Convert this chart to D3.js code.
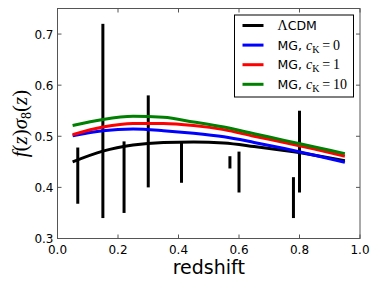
<!DOCTYPE html>
<html>
<head>
<meta charset="utf-8">
<script src="https://cdn.jsdelivr.net/npm/d3@7"></script>
<style>
  body { margin: 0; background: #fff; }
  svg { display: block; }
</style>
</head>
<body>
<div id="chart"></div>
<script>
// Model curves (redshift grid shared by all)
var zGrid = [0.05, 0.15, 0.25, 0.35, 0.45, 0.55, 0.65, 0.75, 0.85, 0.95];
var lcdm  = [0.450, 0.471, 0.483, 0.488, 0.489, 0.487, 0.480, 0.472, 0.463, 0.452];
var mg0   = [0.501, 0.511, 0.514, 0.511, 0.506, 0.499, 0.488, 0.476, 0.463, 0.449];
var mg1   = [0.503, 0.518, 0.525, 0.525, 0.521, 0.513, 0.500, 0.488, 0.475, 0.461];
var mg10  = [0.521, 0.533, 0.539, 0.537, 0.528, 0.518, 0.505, 0.492, 0.479, 0.466];

// Measurements: redshift, central value, half error
var dataZ   = [0.067, 0.15, 0.22, 0.30, 0.41, 0.57, 0.60, 0.78, 0.80];
var dataVal = [0.423, 0.530, 0.420, 0.490, 0.448, 0.449, 0.430, 0.380, 0.470];
var dataErr = [0.055, 0.190, 0.070, 0.090, 0.039, 0.012, 0.040, 0.040, 0.080];

var xTicks = [0.0, 0.2, 0.4, 0.6, 0.8, 1.0];
var yTicks = [0.3, 0.4, 0.5, 0.6, 0.7];

var W = 379, H = 285;
var margin = {left: 57.5, right: 19, top: 8.5, bottom: 46.5};

var svg = d3.select("#chart").append("svg")
    .attr("width", W).attr("height", H);

var x = d3.scaleLinear().domain([0, 1]).range([margin.left, W - margin.right]);
var y = d3.scaleLinear().domain([0.3, 0.75]).range([H - margin.bottom, margin.top]);

var series = [
  {vals: lcdm, color: "#000000", label: "ΛCDM"},
  {vals: mg0,  color: "#0000ff", label: "0"},
  {vals: mg1,  color: "#ff0000", label: "1"},
  {vals: mg10, color: "#008000", label: "10"}
];

var line = d3.line()
    .x(function(d){ return x(d[0]); })
    .y(function(d){ return y(d[1]); })
    .curve(d3.curveMonotoneX);

var plot = svg.append("g");

// error bars
plot.selectAll(".err")
    .data(dataZ)
    .enter()
    .append("line")
    .attr("x1", function(d){ return x(d); })
    .attr("x2", function(d){ return x(d); })
    .attr("y1", function(d, i){ return y(dataVal[i] - dataErr[i]); })
    .attr("y2", function(d, i){ return y(dataVal[i] + dataErr[i]); })
    .style("stroke", "#000")
    .style("stroke-width", "3px");

// curves
series.forEach(function(s){
  plot.append("path")
      .datum(zGrid.map(function(z, i){ return [z, s.vals[i]]; }))
      .attr("d", line)
      .style("fill", "none")
      .style("stroke", s.color)
      .style("stroke-width", "3px");
});

// frame
var x0 = x(0), x1 = x(1), y0 = y(0.3), y1 = y(0.75);
svg.append("rect")
    .attr("x", x0).attr("y", y1)
    .attr("width", x1 - x0).attr("height", y0 - y1)
    .style("fill", "none")
    .style("stroke", "#555")
    .style("stroke-width", "1px");

// ticks (inside, on all sides)
var tickLen = 4;
xTicks.forEach(function(t){
  svg.append("line").attr("x1", x(t)).attr("x2", x(t)).attr("y1", y0).attr("y2", y0 - tickLen)
     .style("stroke", "#555");
  svg.append("line").attr("x1", x(t)).attr("x2", x(t)).attr("y1", y1).attr("y2", y1 + tickLen)
     .style("stroke", "#555");
  svg.append("text")
     .attr("x", x(t)).attr("y", y0 + 15)
     .attr("text-anchor", "middle")
     .style("font-family", "DejaVu Sans")
     .style("font-size", "12px")
     .text(d3.format(".1f")(t));
});
yTicks.forEach(function(t){
  svg.append("line").attr("x1", x0).attr("x2", x0 + tickLen).attr("y1", y(t)).attr("y2", y(t))
     .style("stroke", "#555");
  svg.append("line").attr("x1", x1).attr("x2", x1 - tickLen).attr("y1", y(t)).attr("y2", y(t))
     .style("stroke", "#555");
  svg.append("text")
     .attr("x", x0 - 4).attr("y", y(t) + 4.5)
     .attr("text-anchor", "end")
     .style("font-family", "DejaVu Sans")
     .style("font-size", "12px")
     .text(d3.format(".1f")(t));
});

// axis labels
svg.append("text")
    .attr("x", (x0 + x1) / 2).attr("y", 274)
    .attr("text-anchor", "middle")
    .style("font-family", "DejaVu Sans")
    .style("font-size", "19px")
    .text("redshift");

var yl = svg.append("text")
    .attr("transform", "translate(27," + ((y0 + y1) / 2) + ") rotate(-90)")
    .attr("text-anchor", "middle")
    .style("font-family", "Liberation Serif")
    .style("font-size", "21px");
yl.append("tspan").style("font-style", "italic").text("f");
yl.append("tspan").text("(");
yl.append("tspan").style("font-style", "italic").text("z");
yl.append("tspan").text(")");
yl.append("tspan").style("font-style", "italic").text("σ");
yl.append("tspan").attr("dy", 4).style("font-size", "14px").text("8");
yl.append("tspan").attr("dy", -4).text("(");
yl.append("tspan").style("font-style", "italic").text("z");
yl.append("tspan").text(")");

// legend
var lg = svg.append("g").attr("transform", "translate(234.5,15)");
lg.append("rect")
    .attr("width", 119).attr("height", 82)
    .style("fill", "#fff")
    .style("stroke", "#000")
    .style("stroke-width", "1px");

series.forEach(function(s, i){
  var ly = 10.5 + i * 19.6;
  lg.append("line")
    .attr("x1", 8).attr("x2", 29).attr("y1", ly).attr("y2", ly)
    .style("stroke", s.color).style("stroke-width", "3px");
  var t = lg.append("text")
    .attr("x", 43).attr("y", ly + 4.5)
    .style("font-family", "DejaVu Sans")
    .style("font-size", "12.5px");
  if (i === 0) {
    t.append("tspan").style("font-family", "Liberation Serif").style("font-size", "14px").text("Λ");
    t.append("tspan").text("CDM");
  } else {
    t.append("tspan").text("MG, ");
    t.append("tspan").style("font-family", "Liberation Serif").style("font-style", "italic")
      .style("font-size", "14px").text("c");
    t.append("tspan").attr("dy", 3).style("font-family", "Liberation Serif")
      .style("font-size", "10px").text("K");
    t.append("tspan").attr("dy", -3).style("font-family", "Liberation Serif")
      .style("font-size", "14px").text("\u2009=\u2009" + s.label);
  }
});
</script>
</body>
</html>
